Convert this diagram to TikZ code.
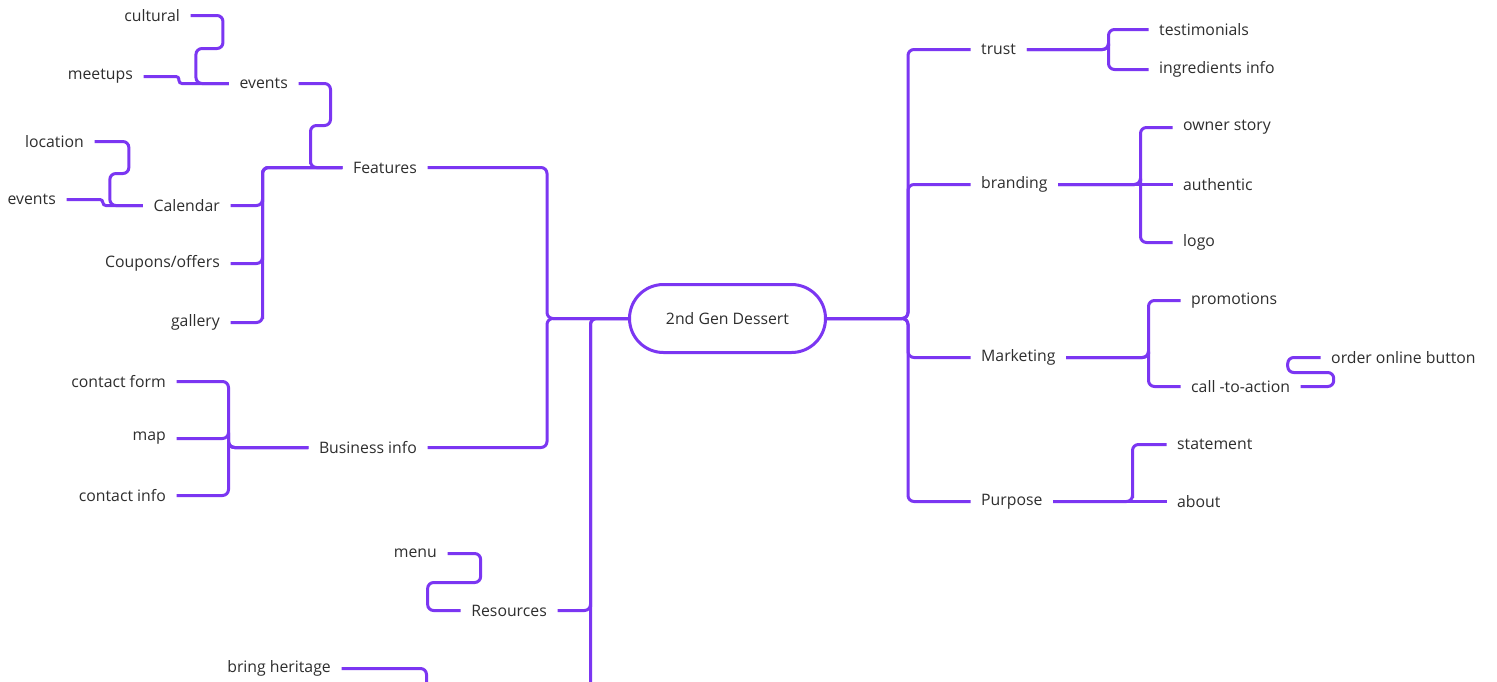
\documentclass[tikz,border=0pt]{standalone}
\usepackage{fontspec}
\setmainfont{Open Sans}
\usetikzlibrary{calc}
\definecolor{linecol}{HTML}{7B36F2}
\definecolor{txtcol}{HTML}{2E2E2E}
\begin{document}
\begin{tikzpicture}[x=1pt,y=-1pt,
  conn/.style={draw=linecol,line width=3pt,rounded corners=6pt},
  jog/.style={conn,rounded corners=3pt},
  lbl/.style={font=\fontsize{15.8}{18}\selectfont,text=txtcol,inner xsep=10.5pt,inner ysep=3pt},
  lnode/.style={lbl,anchor=east},
  rnode/.style={lbl,anchor=west},
  rootnode/.style={draw=linecol,line width=3pt,rounded corners=34pt,minimum width=196pt,minimum height=68pt,font=\fontsize{15.8}{18}\selectfont,text=txtcol,fill=white}]
\clip (0,0) rectangle (1497,681);
\fill[white] (0,0) rectangle (1497,681);
\begin{scope}[shift={(0.5,0.5)}]
% root
\node[rootnode] (root) at (727,318) {2nd Gen Dessert};

% left side
\node[lnode] (cultural) at (190,15) {cultural};
\node[lnode] (meetups) at (143,76) {meetups};
\node[lnode] (evtop) at (298,83) {events};
\node[lnode] (features) at (427,167) {Features};
\node[lnode] (location) at (94,141) {location};
\node[lnode] (evlow) at (66,199) {events};
\node[lnode] (calendar) at (230,205) {Calendar};
\node[lnode] (coupons) at (230,263) {Coupons/offers};
\node[lnode] (gallery) at (230,322) {gallery};
\node[lnode] (contactform) at (176,381) {contact form};
\node[lnode] (map) at (176,438) {map};
\node[lnode] (contactinfo) at (176,495) {contact info};
\node[lnode] (business) at (427,447) {Business info};
\node[lnode] (menu) at (447,553) {menu};
\node[lnode] (resources) at (557,610) {Resources};
\node[lnode] (heritage) at (341,668) {bring heritage};
\coordinate (trunkend) at (590,720);
\coordinate (heritageend) at (426,720);

% right side
\node[rnode] (trust) at (970,49) {trust};
\node[rnode] (testimonials) at (1148,29) {testimonials};
\node[rnode] (ingredients) at (1148,69) {ingredients info};
\node[rnode] (branding) at (970,184) {branding};
\node[rnode] (owner) at (1172,127) {owner story};
\node[rnode] (authentic) at (1172,184) {authentic};
\node[rnode] (logo) at (1172,242) {logo};
\node[rnode] (marketing) at (970,357) {Marketing};
\node[rnode] (promotions) at (1180,300) {promotions};
\node[rnode] (cta) at (1180,386) {call -to-action};
\node[rnode] (order) at (1320,357) {order online button};
\node[rnode] (purpose) at (970,501) {Purpose};
\node[rnode] (statement) at (1166,444) {statement};
\node[rnode] (about) at (1166,501) {about};

% root to left
\draw[conn] (root.west) -- ++(-81,0) |- (features.east);
\draw[conn] (root.west) -- ++(-81,0) |- (business.east);
\draw[conn] (root.west) -| (trunkend);
\draw[conn] (root.west) -| ($(resources.east)+(33,0)$) |- (resources.east);
\draw[conn] (heritage.east) -| (heritageend);

% features
\draw[conn] (features.west) -| ($(evtop.east)+(12,84)$) |- ++(20,-42) |- (evtop.east);
\draw[conn] (features.west) -| ($(calendar.east)+(32,0)$) |- (calendar.east);
\draw[conn] (features.west) -| ($(coupons.east)+(32,0)$) |- (coupons.east);
\draw[conn] (features.west) -| ($(gallery.east)+(32,0)$) |- (gallery.east);
\draw[conn] (evtop.west) -- ++(-33,0) |- ++(27,-35) |- (cultural.east);
\draw[jog] (evtop.west) -- ++(-50,0) |- (meetups.east);
\draw[conn] (calendar.west) -- ++(-33,0) |- ++(19,-32) |- (location.east);
\draw[jog] (calendar.west) -- ++(-40,0) |- (evlow.east);

% business
\draw[conn] (business.west) -| ($(map.east)+(52,0)$) |- (contactform.east);
\draw[conn] (business.west) -| ($(map.east)+(52,0)$) |- (map.east);
\draw[conn] (business.west) -| ($(map.east)+(52,0)$) |- (contactinfo.east);

% resources
\draw[conn] (resources.west) -- ++(-33,0) |- ++(53,-28) |- (menu.east);

% root to right
\draw[conn] (root.east) -- ++(81,0) |- (trust.west);
\draw[conn] (root.east) -- ++(81,0) |- (branding.west);
\draw[conn] (root.east) -- ++(81,0) |- (marketing.west);
\draw[conn] (root.east) -- ++(81,0) |- (purpose.west);

% trust
\draw[conn] (trust.east) -| ($(testimonials.west)+(-40,20)$) |- (testimonials.west);
\draw[conn] (trust.east) -| ($(testimonials.west)+(-40,20)$) |- (ingredients.west);
% branding
\draw[conn] (branding.east) -| ($(authentic.west)+(-32,0)$) |- (owner.west);
\draw[conn] (branding.east) -- (authentic.west);
\draw[conn] (branding.east) -| ($(authentic.west)+(-32,0)$) |- (logo.west);
% marketing
\draw[conn] (marketing.east) -| ($(promotions.west)+(-32,57)$) |- (promotions.west);
\draw[conn] (marketing.east) -| ($(promotions.west)+(-32,57)$) |- (cta.west);
\draw[conn] (cta.east) -- ++(33,0) |- ++(-46,-14) |- (order.west);
% purpose
\draw[conn] (purpose.east) -| ($(about.west)+(-34,0)$) |- (statement.west);
\draw[conn] (purpose.east) -- (about.west);
\end{scope}
\end{tikzpicture}
\end{document}
